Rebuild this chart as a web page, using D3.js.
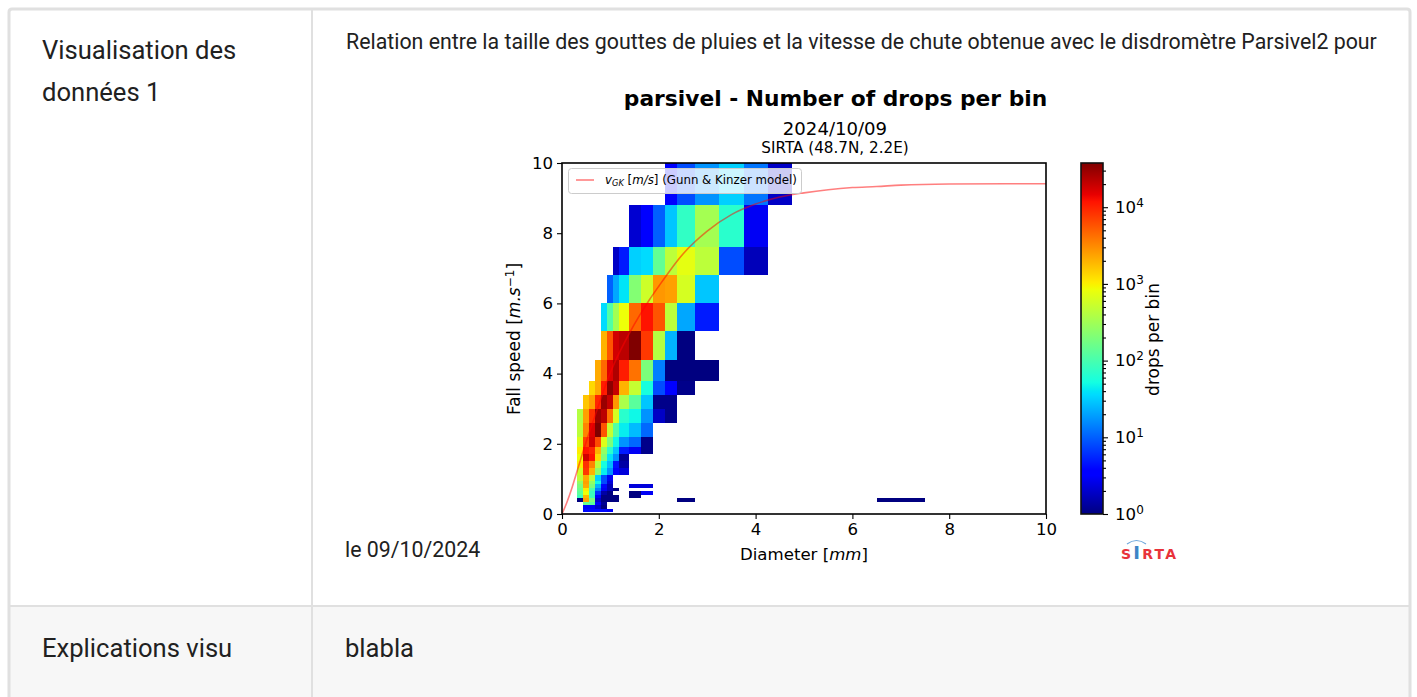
<!DOCTYPE html>
<html>
<head>
<meta charset="utf-8">
<script src="https://cdn.jsdelivr.net/npm/d3@7"></script>
<style>
html, body { margin: 0; padding: 0; background: #fff; overflow: hidden; }
svg { display: block; }
.page { font-family: Roboto, sans-serif; fill: #212121; }
.mpl text { font-family: "DejaVu Sans", sans-serif; fill: #000; }
</style>
</head>
<body>
<div id="svg_wrapper"></div>
<script>
// bin edges of the disdrometer classes
const diameterEdges = [0.3125, 0.4375, 0.5625, 0.6875, 0.8125, 0.9375, 1.0625, 1.1875, 1.375, 1.625, 1.875, 2.125, 2.375, 2.75, 3.25, 3.75, 4.25, 4.75, 5.5, 6.5, 7.5];
const speedEdges = [0.05, 0.15, 0.25, 0.35, 0.45, 0.55, 0.65, 0.75, 0.85, 0.95, 1.1, 1.3, 1.5, 1.7, 1.9, 2.2, 2.6, 3.0, 3.4, 3.8, 4.4, 5.2, 6.0, 6.8, 7.6, 8.8, 10.4];

// drops per bin, first row is the slowest speed class, columns follow diameterEdges
const _ = null;
const counts = [
    [_, 4, 4, 4, 4, 3],
    [_, 3, 3, 2, 1],
    [_, 150, 130, 3, 1.2],
    [1, 2400, 200, 2, 1, 1, 1, _, _, _, _, _, 1, _, _, _, _, _, _, 1],
    [90, 1900, 85, 3, 1, 1, 1, _, 1],
    [127, 850, 84, 6, 1.4, 1, _, _, 1, 2.9],
    [157, 1040, 103, 14, 2.9, 1.7, 1],
    [194, 2200, 194, 24, 3.9, 1.7, _, _, 2.3, 2.3],
    [265, 2440, 265, 49, 8.2, 2.3],
    [450, 2200, 450, 32, 8.2, 2.9],
    [557, 7800, 1970, 240, 44, 17, 3.2, 2.3],
    [1040, 8600, 3350, 450, 55, 26, 4.4, 1.4],
    [850, 18000, 11800, 1300, 194, 40, 17, 1.2],
    [1040, 11800, 9600, 1970, 265, 68, 29, 4.9, 2.9, 1.1],
    [685, 7000, 18000, 6300, 685, 194, 49, 17, 11, 1.1],
    [450, 3350, 16000, 37700, 5700, 500, 114, 44, 26, 11],
    [405, 2440, 8600, 30000, 22000, 4100, 620, 68, 49, 17, 1.9, 1.1],
    [_, 1600, 2440, 9600, 30000, 20000, 2700, 365, 127, 29, 1.1, 1.1],
    [_, _, 1300, 2200, 10700, 33500, 20000, 1970, 500, 55, 8.2, 3.2, 1.1],
    [_, _, _, 2200, 4570, 16000, 24500, 10700, 4100, 194, 14, 1, 1, 1],
    [_, _, _, _, 1970, 5700, 18000, 22000, 37700, 7800, 405, 24, 1],
    [_, _, _, _, 36, 114, 328, 850, 4570, 11800, 5700, 450, 21, 4.9],
    [_, _, _, _, _, 10, 21, 40, 216, 557, 2700, 2440, 620, 29],
    [_, _, _, _, _, _, 1.9, 4.9, 32, 36, 141, 450, 760, 450, 8.2, 1.7],
    [_, _, _, _, _, _, _, _, 2.1, 3.2, 10, 29, 75, 328, 68, 2.9],
    [_, _, _, _, _, _, _, _, _, _, _, 3.2, 8.2, 17, 32, 12.5, 1.9]
];

// Gunn & Kinzer model
const gkDiameter = [0, 0.1, 0.2, 0.3, 0.4, 0.5, 0.6, 0.7, 0.8, 0.9, 1, 1.2, 1.4, 1.6, 1.8, 2, 2.5, 3, 3.5, 4, 4.5, 5, 5.5, 6, 6.5, 7, 8, 10];
const gkSpeed = [0, 0.33, 0.72, 1.17, 1.62, 2.06, 2.47, 2.87, 3.27, 3.67, 4.03, 4.64, 5.17, 5.65, 6.09, 6.49, 7.41, 8.06, 8.53, 8.83, 9.03, 9.15, 9.24, 9.3, 9.33, 9.37, 9.4, 9.41];

// jet colormap
const jetStops = [0, 0.11, 0.125, 0.34, 0.35, 0.375, 0.64, 0.65, 0.66, 0.89, 0.91, 1];
const jetColors = ['#000080', '#0000ff', '#0000ff', '#00dbff', '#00e5f7', '#14ffe2', '#eeff08', '#f7f600', '#ffec00', '#ff1300', '#e80000', '#800000'];

const xTicks = [0, 2, 4, 6, 8, 10];
const yTicks = [0, 2, 4, 6, 8, 10];
const cbTicks = [1, 10, 100, 1000, 10000];
const cbMinor = [2, 3, 4, 5, 6, 7, 8, 9, 20, 30, 40, 50, 60, 70, 80, 90, 200, 300, 400, 500, 600, 700, 800, 900, 2000, 3000, 4000, 5000, 6000, 7000, 8000, 9000, 20000, 30000];
const cbMax = 37700;

const width = 1417, height = 697;
const plot = { left: 562, right: 1046, top: 163, bottom: 514 };
const bar = { left: 1081, right: 1103 };

const svg = d3.select('#svg_wrapper')
.append('svg')
.attr('width', width)
.attr('height', height)
.attr('viewBox', `0 0 ${width} ${height}`);

// page table
const border = '#e0e0e0';
const page = svg.append('g').attr('class', 'page');

page.append('rect').attr('x', 9).attr('y', 607).attr('width', 1401).attr('height', 90).attr('fill', '#f7f7f7');
page.append('path')
.attr('d', 'M9 697V12q0-3 3-3H1407q3 0 3 3V697')
.attr('fill', 'none').attr('stroke', border).attr('stroke-width', 3);
page.append('line').attr('x1', 312).attr('x2', 312).attr('y1', 9).attr('y2', 697).attr('stroke', border).attr('stroke-width', 2);
page.append('line').attr('x1', 9).attr('x2', 1410).attr('y1', 606).attr('y2', 606).attr('stroke', border).attr('stroke-width', 2);

const pageText = [
    ['Visualisation des', 42, 59, 25.6],
    ['données 1', 42, 101, 25.6],
    ['Relation entre la taille des gouttes de pluies et la vitesse de chute obtenue avec le disdromètre Parsivel2 pour', 346, 49, 21.33],
    ['le 09/10/2024', 345, 557, 21.33],
    ['Explications visu', 42, 657, 25.6],
    ['blabla', 345, 657, 25.6]
];
page.selectAll('text')
.data(pageText)
.enter()
.append('text')
.attr('x', d => d[1])
.attr('y', d => d[2])
.attr('font-size', d => d[3])
.text(d => d[0]);

// chart
const chart = svg.append('g').attr('class', 'mpl');

const x = d3.scaleLinear().domain([0, 10]).range([plot.left, plot.right]);
const y = d3.scaleLinear().domain([0, 10]).range([plot.bottom, plot.top]);
const cb = d3.scaleLog().domain([1, cbMax]).range([plot.bottom, plot.top]);
const jet = d3.scaleLinear().domain(jetStops).range(jetColors).clamp(true);
const colorOf = v => jet(Math.log(v) / Math.log(cbMax));

chart.append('clipPath').attr('id', 'plot_clip')
.append('rect')
.attr('x', plot.left).attr('y', plot.top)
.attr('width', plot.right - plot.left).attr('height', plot.bottom - plot.top);

const cells = [];
counts.forEach((row, r) => {
    row.forEach((v, c) => {
        if(v !== null) {
            cells.push({ r: r, c: c, v: v });
        }
    });
});

chart.append('g')
.attr('clip-path', 'url(#plot_clip)')
.attr('shape-rendering', 'crispEdges')
.selectAll('rect')
.data(cells)
.enter()
.append('rect')
.attr('x', d => x(diameterEdges[d.c]))
.attr('y', d => y(speedEdges[d.r + 1]))
.attr('width', d => x(diameterEdges[d.c + 1]) - x(diameterEdges[d.c]))
.attr('height', d => y(speedEdges[d.r]) - y(speedEdges[d.r + 1]))
.attr('fill', d => colorOf(d.v));

// model curve
const line = d3.line().x((d, i) => x(gkDiameter[i])).y(d => y(d)).curve(d3.curveMonotoneX);
chart.append('path')
.attr('clip-path', 'url(#plot_clip)')
.attr('d', line(gkSpeed))
.attr('fill', 'none')
.attr('stroke', '#ff0000')
.attr('stroke-opacity', 0.5)
.attr('stroke-width', 1.6);

// legend
chart.append('rect')
.attr('x', 568.5).attr('y', 168.5)
.attr('width', 233).attr('height', 25).attr('rx', 3)
.attr('fill', '#fff').attr('fill-opacity', 0.8)
.attr('stroke', '#ccc').attr('stroke-width', 1);
chart.append('line')
.attr('x1', 576).attr('x2', 594).attr('y1', 180).attr('y2', 180)
.attr('stroke', '#ff0000').attr('stroke-opacity', 0.5).attr('stroke-width', 1.6);
const legendText = chart.append('text').attr('x', 605).attr('y', 184).attr('font-size', 11.8);
legendText.append('tspan').attr('font-style', 'italic').text('v');
legendText.append('tspan').attr('font-style', 'italic').attr('font-size', 8.3).attr('dy', 2).text('GK');
legendText.append('tspan').attr('dy', -2).text(' [');
legendText.append('tspan').attr('font-style', 'italic').text('m/s');
legendText.append('tspan').text('] (Gunn & Kinzer model)');

// frame and axes
chart.append('rect')
.attr('x', plot.left).attr('y', plot.top)
.attr('width', plot.right - plot.left).attr('height', plot.bottom - plot.top)
.attr('fill', 'none').attr('stroke', '#000').attr('stroke-width', 1.6);

const styleAxis = g => {
    g.select('.domain').remove();
    g.selectAll('.tick line').attr('stroke', '#000').attr('stroke-width', 1.1);
    g.selectAll('.tick text').attr('font-size', 16.6).attr('fill', '#000');
};

chart.append('g')
.attr('transform', `translate(0,${plot.bottom})`)
.call(d3.axisBottom(x).tickValues(xTicks).tickSize(5).tickPadding(4).tickFormat(d3.format('d')))
.call(styleAxis);

chart.append('g')
.attr('transform', `translate(${plot.left},0)`)
.call(d3.axisLeft(y).tickValues(yTicks).tickSize(5).tickPadding(4).tickFormat(d3.format('d')))
.call(styleAxis);

const xLabel = chart.append('text').attr('x', 804).attr('y', 560).attr('font-size', 16.6).attr('text-anchor', 'middle');
xLabel.append('tspan').text('Diameter [');
xLabel.append('tspan').attr('font-style', 'italic').text('mm');
xLabel.append('tspan').text(']');

const yLabel = chart.append('text')
.attr('transform', 'translate(520,339) rotate(-90)')
.attr('font-size', 17).attr('text-anchor', 'middle');
yLabel.append('tspan').text('Fall speed [');
yLabel.append('tspan').attr('font-style', 'italic').text('m.s');
yLabel.append('tspan').attr('font-size', 12).attr('dy', -6).text('−1');
yLabel.append('tspan').attr('dy', 6).text(']');

chart.append('text').attr('x', 835.5).attr('y', 106).attr('text-anchor', 'middle')
.attr('font-size', 21.75).attr('font-weight', 'bold').text('parsivel - Number of drops per bin');
chart.append('text').attr('x', 835).attr('y', 135).attr('text-anchor', 'middle')
.attr('font-size', 18.1).text('2024/10/09');
chart.append('text').attr('x', 835).attr('y', 153).attr('text-anchor', 'middle')
.attr('font-size', 15.2).text('SIRTA (48.7N, 2.2E)');

// colorbar
const gradient = chart.append('linearGradient')
.attr('id', 'jet_gradient')
.attr('x1', 0).attr('x2', 0).attr('y1', 1).attr('y2', 0);
gradient.selectAll('stop')
.data(jetStops)
.enter()
.append('stop')
.attr('offset', d => d)
.attr('stop-color', (d, i) => jetColors[i]);

chart.append('rect')
.attr('x', bar.left).attr('y', plot.top)
.attr('width', bar.right - bar.left).attr('height', plot.bottom - plot.top)
.attr('fill', 'url(#jet_gradient)')
.attr('stroke', '#111').attr('stroke-width', 1.6);

const cbAxis = chart.append('g')
.attr('transform', `translate(${bar.right},0)`)
.call(d3.axisRight(cb).tickValues(cbTicks).tickSize(5).tickPadding(7).tickFormat(''))
.call(styleAxis);

cbAxis.selectAll('.tick text').each(function(d) {
    const t = d3.select(this);
    t.append('tspan').text('10');
    t.append('tspan').attr('font-size', 12).attr('dy', -6).text(Math.round(Math.log10(d)));
});

chart.append('g')
.attr('transform', `translate(${bar.right},0)`)
.call(d3.axisRight(cb).tickValues(cbMinor).tickSize(3).tickFormat(''))
.call(styleAxis);

chart.append('text')
.attr('transform', 'translate(1159,339.5) rotate(-90)')
.attr('font-size', 17).attr('text-anchor', 'middle').text('drops per bin');

// SIRTA logo
const logo = chart.append('text').attr('x', 1121).attr('y', 559)
.attr('font-size', 14).attr('font-weight', 'bold').attr('letter-spacing', 2.2)
.style('fill', '#e8333a');
logo.append('tspan').text('S');
logo.append('tspan').style('fill', '#3d85c6').attr('font-size', 18).text('I');
logo.append('tspan').text('RTA');
chart.append('path')
.attr('d', 'M1127 544Q1136.5 537 1146 544')
.attr('fill', 'none').attr('stroke', '#6fa8dc').attr('stroke-width', 1.2);
</script>
</body>
</html>
